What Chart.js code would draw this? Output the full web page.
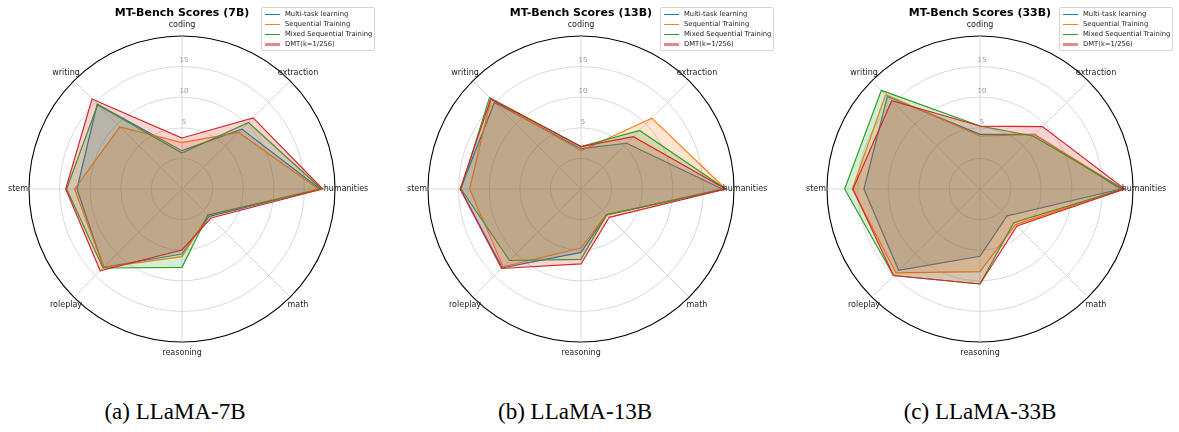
<!DOCTYPE html>
<html>
<head>
<meta charset="utf-8">
<script src="https://cdn.jsdelivr.net/npm/chart.js@4.4.1/dist/chart.umd.min.js"></script>
<style>
    body { margin: 0; width: 1179px; height: 432px; background: #fff; position: relative; overflow: hidden; font-family: "DejaVu Sans", sans-serif; }
    .panel { position: absolute; top: 0; width: 400px; height: 380px; }
    .panel canvas { position: absolute; left: 0; top: 0; }
    .title { position: absolute; left: 0; top: 6px; width: 400px; text-align: center; font: bold 11px "DejaVu Sans"; line-height: 14px; color: #000; }
    .legend { position: absolute; left: 279px; top: 7px; width: 112px; padding: 1px 0 1px 0; border: 1px solid #d4d4d4; border-radius: 2px; background: rgba(255,255,255,0.85); }
    .legend .row { position: relative; height: 10px; font: 6.8px "DejaVu Sans"; line-height: 10px; color: #222; padding-left: 23px; white-space: nowrap; }
    .legend .swatch { position: absolute; left: 3px; top: 4.5px; width: 15px; height: 1.3px; }
    .caption { position: absolute; top: 398px; width: 300px; text-align: center; font: 23px "Liberation Serif", serif; line-height: 28px; color: #000; }
</style>
</head>
<body>
<div class="panel" style="left:-18px"><canvas id="chart7b" width="400" height="380"></canvas><div class="title">MT-Bench Scores (7B)</div><div class="legend"></div></div>
<div class="panel" style="left:381px"><canvas id="chart13b" width="400" height="380"></canvas><div class="title">MT-Bench Scores (13B)</div><div class="legend"></div></div>
<div class="panel" style="left:780px"><canvas id="chart33b" width="400" height="380"></canvas><div class="title">MT-Bench Scores (33B)</div><div class="legend"></div></div>
<div class="caption" style="left:25px">(a) LLaMA-7B</div>
<div class="caption" style="left:425px">(b) LLaMA-13B</div>
<div class="caption" style="left:830px">(c) LLaMA-33B</div>
<script>
const categories = ['coding', 'extraction', 'humanities', 'math', 'reasoning', 'roleplay', 'stem', 'writing'];
const seriesNames = ['Multi-task learning', 'Sequential Training', 'Mixed Sequential Training', 'DMT(k=1/256)'];
const tickValues = [5, 10, 15];

// LLaMA-7B
const mtl7b = [1.26, 8.84, 17.55, 1.32, 5.62, 13.1, 12.17, 14.6];
const seq7b = [2.57, 8.07, 17.28, 1.05, 6.06, 13.1, 12.55, 9.35];
const mixed7b = [0.88, 10.37, 17.8, 0.99, 7.8, 13.26, 13.86, 14.5];
const dmt7b = [3.33, 11.45, 17.99, 1.7, 4.97, 13.9, 14.0, 15.8];

// LLaMA-13B
const mtl13b = [1.59, 5.57, 18.1, 0.94, 5.35, 13.2, 14.7, 15.0];
const seq13b = [1.26, 11.37, 18.64, 0.9, 4.64, 13.0, 13.2, 15.8];
const mixed13b = [1.92, 8.53, 18.64, 0.96, 6.49, 11.52, 14.6, 16.14];
const dmt13b = [1.92, 7.1, 18.64, 1.54, 7.25, 13.37, 14.75, 15.83];

// LLaMA-33B
const mtl33b = [3.93, 7.6, 18.0, 1.24, 6.0, 13.8, 13.97, 16.4];
const seq33b = [3.66, 7.58, 18.4, 3.22, 8.51, 14.4, 15.87, 16.8];
const mixed33b = [5.29, 7.25, 18.4, 2.79, 10.52, 15.0, 17.12, 17.8];
const dmt33b = [5.29, 9.43, 18.64, 3.55, 10.52, 15.0, 15.76, 15.4];

const lineColors = ['rgb(31, 119, 180)', 'rgb(255, 127, 14)', 'rgb(44, 160, 44)', 'rgb(214, 39, 40)'];
const fillColors = ['rgba(31, 119, 180, 0.2)', 'rgba(255, 127, 14, 0.2)', 'rgba(44, 160, 44, 0.2)', 'rgba(214, 39, 40, 0.2)'];

// category names around the circle, centred like matplotlib does it
const axisLabelPlugin = {
    id: 'axisLabels',
    beforeDraw(chart) {
        const scale = chart.scales.r;
        if (!scale._shifted) {
            const drawLabels = scale.drawLabels.bind(scale);
            scale.drawLabels = function (area) {
                this.ctx.save();
                this.ctx.translate(2, -6);
                drawLabels(area);
                this.ctx.restore();
            };
            scale._shifted = true;
        }
    },
    afterDraw(chart) {
        const scale = chart.scales.r;
        const ctx = chart.ctx;
        ctx.save();
        ctx.font = '8px "DejaVu Sans"';
        ctx.fillStyle = '#222';
        ctx.textAlign = 'center';
        ctx.textBaseline = 'middle';
        chart.data.labels.forEach((label, i) => {
            const p = scale.getPointPosition(i, scale.drawingArea + 11);
            ctx.fillText(label, p.x, p.y);
        });
        ctx.restore();
    }
};

function makeRadar(id, series) {
    const ctx = document.getElementById(id).getContext('2d');
    return new Chart(ctx, {
        type: 'radar',
        data: {
            labels: categories,
            datasets: series.map((values, i) => ({
                label: seriesNames[i],
                data: values,
                borderColor: lineColors[i],
                backgroundColor: fillColors[i],
                borderWidth: 1.2,
                pointRadius: 0,
                fill: 'start',
                order: series.length - i
            }))
        },
        options: {
            responsive: false,
            animation: false,
            layout: { padding: { left: 43, right: 43, top: 32, bottom: 34 } },
            plugins: {
                legend: { display: false },
                tooltip: { enabled: false },
                title: { display: false }
            },
            scales: {
                r: {
                    min: -5,
                    max: 20,
                    ticks: {
                        stepSize: 5,
                        showLabelBackdrop: false,
                        backdropPadding: 0,
                        color: '#999',
                        font: { family: 'DejaVu Sans', size: 7 },
                        callback: v => tickValues.includes(v) ? String(v) : ''
                    },
                    grid: {
                        circular: true,
                        color: c => c.tick && c.tick.value === 20 ? '#000' : '#cfcfcf',
                        lineWidth: c => c.tick && c.tick.value === 20 ? 1.1 : 0.8
                    },
                    angleLines: { color: '#cfcfcf', lineWidth: 0.8 },
                    pointLabels: { display: false }
                }
            }
        },
        plugins: [axisLabelPlugin]
    });
}

function buildLegend(box) {
    seriesNames.forEach((name, i) => {
        const row = document.createElement('div');
        row.className = 'row';
        const sw = document.createElement('span');
        sw.className = 'swatch';
        if (i === 3) {
            sw.style.background = 'rgba(214, 39, 40, 0.55)';
            sw.style.height = '3px';
            sw.style.top = '3.5px';
        } else {
            sw.style.background = lineColors[i];
        }
        row.appendChild(sw);
        row.appendChild(document.createTextNode(name));
        box.appendChild(row);
    });
}

document.addEventListener('DOMContentLoaded', function () {
    makeRadar('chart7b', [mtl7b, seq7b, mixed7b, dmt7b]);
    makeRadar('chart13b', [mtl13b, seq13b, mixed13b, dmt13b]);
    makeRadar('chart33b', [mtl33b, seq33b, mixed33b, dmt33b]);
    document.querySelectorAll('.legend').forEach(buildLegend);
});
</script>
</body>
</html>
